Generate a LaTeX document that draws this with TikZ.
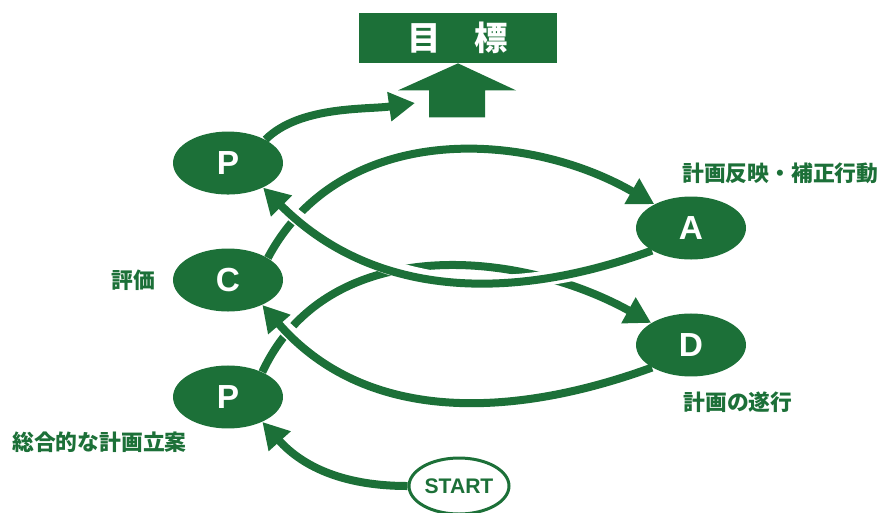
\documentclass[tikz,border=0pt]{standalone}
\usepackage{fontspec}
\setmainfont{Liberation Sans}
\newfontfamily\jpfont{Noto Sans CJK JP}
\usepackage{tikz}
\usetikzlibrary{positioning,shapes.geometric,arrows.meta}
\definecolor{pdcagreen}{RGB}{28,112,56}
\pgfdeclarelayer{bg}
\pgfsetlayers{bg,main}

\begin{document}
\begin{tikzpicture}[x=0.02cm, y=-0.02cm, node distance=2.34cm, on grid,
	phase/.style={ellipse, fill=pdcagreen, minimum width=2.2cm, minimum height=1.26cm, inner sep=0pt, text=white, font=\fontsize{19}{22}\selectfont\bfseries},
	startbox/.style={ellipse, draw=pdcagreen, line width=0.06cm, fill=white, minimum width=2.0cm, minimum height=1.12cm, inner sep=0pt, text=pdcagreen, font=\fontsize{12}{14}\selectfont\bfseries},
	note/.style={text=pdcagreen, inner sep=0pt, font=\jpfont\fontsize{12.4}{14}\selectfont\bfseries},
	flow/.style={draw=pdcagreen, line width=0.16cm, -{Triangle[length=0.52cm,width=0.56cm]}},
	over/.style={preaction={draw=white, line width=0.3cm, arrows=-}}]
			\useasboundingbox (0,0) rectangle (878,512);
			% goal box and big arrow
			\node [fill=pdcagreen, minimum width=3.96cm, minimum height=1.0cm, inner sep=0pt, text=white, font=\jpfont\fontsize{19}{22}\selectfont\bfseries] (goal) at (458,38) {目　標};
			\fill [pdcagreen] (goal.south) -- ++(58,27) -- ++(-31,0) -- ++(0,27) -- ++(-56,0) -- ++(0,-27) -- ++(-31,0) -- cycle;
			\coordinate (goaltip) at (415,103);
			% cycle
			\node [phase] (C) at (228,280) {C};
			\node [phase] (Ptop) [above =of C] {P};
			\node [phase] (Pbot) [below =of C] {P};
			\node [phase] (A) at (691,228) {A};
			\node [phase] (D) [below =of A] {D};
			\node [startbox] (start) at (459,486) {START};
			% notes
			\node [note, anchor=west] (Anote) at (682,173) {計画反映・補正行動};
			\node [note] (Cnote) [left =1.9cm of C] {評価};
			\node [note] (Dnote) [below right =1.14cm and 0.94cm of D] {計画の遂行};
			\node [note, anchor=west] (Pnote) at (12,442) {総合的な計画立案};
			\begin{pgfonlayer}{bg}
			\draw [flow] (C.29) to [out=62, in=150] (A.147);
			\draw [flow] (Pbot.36) to [out=65, in=151] (D.151);
			\draw [flow] (start.west) to [out=180, in=-48] (Pbot.-36);
			\draw [flow] (Ptop.32) to [out=45, in=188, looseness=0.8] (goaltip);
			\draw [flow, over] (A.210) to [out=200, in=-45] (Ptop.-35);
			\draw [flow, over] (D.210) to [out=200, in=-49] (C.-36);
			\end{pgfonlayer}
		\end{tikzpicture}
\end{document}
